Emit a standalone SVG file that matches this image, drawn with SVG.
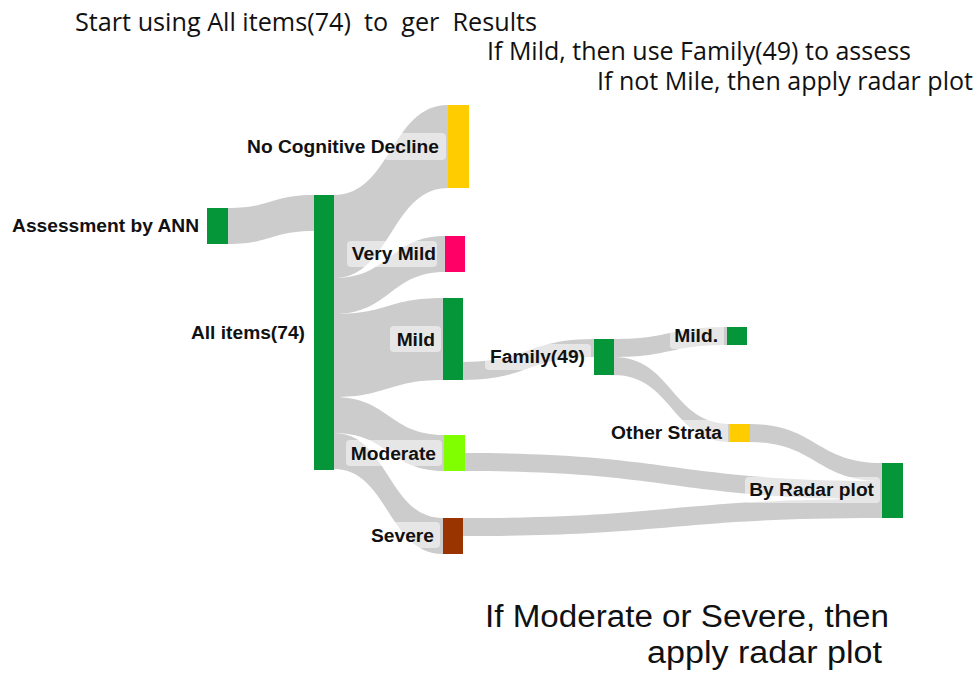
<svg xmlns="http://www.w3.org/2000/svg" width="977" height="673" viewBox="0 0 977 673">
<style>
.link{fill:#cccccc;stroke:none}
.lbl{font-family:"Liberation Sans",Arial,sans-serif;font-weight:bold;font-size:19.2px;fill:#111;text-anchor:end}
.box{fill:#ffffff;fill-opacity:0.5;stroke:none}
.note{font-family:"Open Sans","Noto Sans",sans-serif;fill:#111}
.note2{font-family:"Liberation Sans",Arial,sans-serif;fill:#111}
.g{fill:#05963a}
</style>
<rect width="977" height="673" fill="#ffffff"/>
<g id="connectors">
<path class="link" d="M228 208 C271 208 271 195 314 195 L314 231 C271 231 271 244 228 244 Z"/>
<path class="link" d="M334 195 C391 195 391 105 448 105 L448 188 C391 188 391 278 334 278 Z"/>
<path class="link" d="M334 278 C390 278 390 236 445 236 L445 272 C390 272 390 314 334 314 Z"/>
<path class="link" d="M334 314 C388 314 388 298 443 298 L443 380 C388 380 388 397 334 397 Z"/>
<path class="link" d="M334 397 C389 397 389 435 444 435 L444 471 C389 471 389 433 334 433 Z"/>
<path class="link" d="M334 433 C388 433 388 518 443 518 L443 554 C388 554 388 469 334 469 Z"/>
<path class="link" d="M463 362 C528 362 528 339 594 339 L594 357 C528 357 528 380 463 380 Z"/>
<path class="link" d="M614 339 C670 339 670 327 727 327 L727 345 C670 345 670 357 614 357 Z"/>
<path class="link" d="M614 357 C672 357 672 424 730 424 L730 442 C672 442 672 375 614 375 Z"/>
<path class="link" d="M750 424 C816 424 816 463 882 463 L882 481 C816 481 816 442 750 442 Z"/>
<path class="link" d="M465 453 C673 453 673 481 882 481 L882 499 C673 499 673 471 465 471 Z"/>
<path class="link" d="M463 518 C672 518 672 499 882 499 L882 518 C672 518 672 536 463 536 Z"/>
</g>
<g id="node-ann">
<rect class="g" x="207" y="208" width="21" height="36"/>
<text class="lbl" x="199" y="232">Assessment by ANN</text>
</g>
<g id="node-all">
<rect class="g" x="314" y="195" width="20" height="275"/>
<text class="lbl" x="305" y="339">All items(74)</text>
</g>
<g id="node-ncd">
<rect x="448" y="105" width="21" height="83" fill="#ffcc00"/>
<rect class="box" x="384" y="133" width="62" height="27" rx="4"/>
<text class="lbl" x="439" y="153">No Cognitive Decline</text>
</g>
<g id="node-verymild">
<rect x="445" y="236" width="20" height="36" fill="#ff0066"/>
<rect class="box" x="347" y="241" width="90" height="26" rx="4"/>
<text class="lbl" x="436" y="260">Very Mild</text>
</g>
<g id="node-mild">
<rect class="g" x="443" y="298" width="20" height="82"/>
<rect class="box" x="390" y="326" width="51" height="26" rx="4"/>
<text class="lbl" x="435" y="346">Mild</text>
</g>
<g id="node-moderate">
<rect x="444" y="435" width="21" height="36" fill="#80ff00"/>
<rect class="box" x="346" y="440" width="96" height="26" rx="4"/>
<text class="lbl" x="436" y="460">Moderate</text>
</g>
<g id="node-severe">
<rect x="443" y="518" width="20" height="36" fill="#993300"/>
<rect class="box" x="367" y="522" width="73" height="26" rx="4"/>
<text class="lbl" x="434" y="542">Severe</text>
</g>
<g id="node-family">
<rect class="g" x="594" y="339" width="20" height="36"/>
<rect class="box" x="485" y="344" width="106" height="26" rx="4"/>
<text class="lbl" x="585" y="363">Family(49)</text>
</g>
<g id="node-mild2">
<rect class="g" x="727" y="327" width="20" height="18"/>
<rect class="box" x="670" y="323" width="54" height="26" rx="4"/>
<text class="lbl" x="718" y="342">Mild.</text>
</g>
<g id="node-other">
<rect x="730" y="424" width="20" height="18" fill="#ffcc00"/>
<rect class="box" x="607" y="420" width="121" height="26" rx="4"/>
<text class="lbl" x="722" y="439">Other Strata</text>
</g>
<g id="node-radar">
<rect class="g" x="882" y="463" width="21" height="55"/>
<rect class="box" x="745" y="477" width="135" height="26" rx="4"/>
<text class="lbl" x="874" y="496">By Radar plot</text>
</g>
<g id="notes">
<text class="note" xml:space="preserve" x="75" y="31" font-size="25" textLength="462" lengthAdjust="spacingAndGlyphs">Start using All items(74)  to  ger  Results</text>
<text class="note" x="487" y="60" font-size="25" textLength="424" lengthAdjust="spacingAndGlyphs">If Mild, then use Family(49) to assess</text>
<text class="note" x="597" y="90" font-size="25" textLength="376" lengthAdjust="spacingAndGlyphs">If not Mile, then apply radar plot</text>
<text class="note2" x="485" y="627" font-size="31" textLength="404" lengthAdjust="spacingAndGlyphs">If Moderate or Severe, then</text>
<text class="note2" x="647" y="663" font-size="31" textLength="235" lengthAdjust="spacingAndGlyphs">apply radar plot</text>
</g>
</svg>
